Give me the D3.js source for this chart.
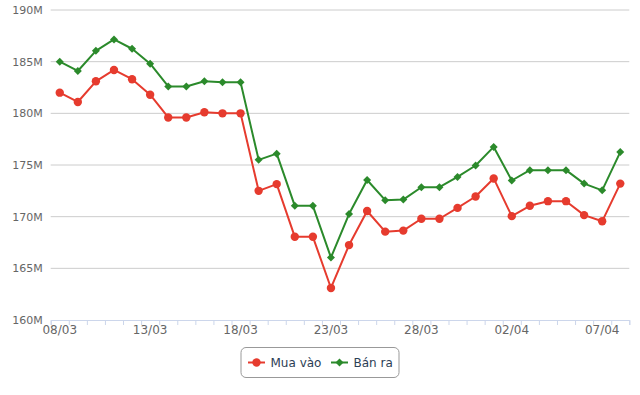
<!DOCTYPE html>
<html>
<head>
<meta charset="utf-8">
<script src="https://cdn.jsdelivr.net/npm/d3@7"></script>
<style>
  html, body { margin: 0; padding: 0; background: #fff; }
  svg { display: block; font-family: "DejaVu Sans", sans-serif; }
</style>
</head>
<body>
<div id="chart"></div>
<script>
// dates from 08/03 to 08/04
const dates = [
  '08/03','09/03','10/03','11/03','12/03','13/03','14/03','15/03','16/03','17/03',
  '18/03','19/03','20/03','21/03','22/03','23/03','24/03','25/03','26/03','27/03',
  '28/03','29/03','30/03','31/03','01/04','02/04','03/04','04/04','05/04','06/04',
  '07/04','08/04'
];
// values in millions
const buyValues = [
  182.0, 181.1, 183.1, 184.2, 183.3, 181.8, 179.6, 179.6, 180.1, 180.0,
  180.0, 172.5, 173.15, 168.05, 168.05, 163.1, 167.25, 170.55, 168.55, 168.65,
  169.8, 169.8, 170.85, 171.95, 173.7, 170.05, 171.05, 171.5, 171.5, 170.15,
  169.55, 173.2
];
const sellValues = [
  185.0, 184.1, 186.05, 187.15, 186.25, 184.8, 182.6, 182.6, 183.1, 183.0,
  183.0, 175.5, 176.1, 171.05, 171.05, 166.05, 170.25, 173.55, 171.6, 171.65,
  172.85, 172.85, 173.85, 174.95, 176.75, 173.5, 174.5, 174.5, 174.5, 173.2,
  172.55, 176.25
];
const yTicks = [160, 165, 170, 175, 180, 185, 190];
const seriesNames = ['Mua vào', 'Bán ra'];

const width = 640, height = 395;
const margin = { top: 10, right: 10.7, bottom: 75, left: 50.7 };
const red = '#e63b2e', green = '#2b8a2b';

const svg = d3.select('#chart')
  .append('svg')
  .attr('width', width)
  .attr('height', height);

const x = d3.scaleBand()
  .domain(dates)
  .range([margin.left, width - margin.right]);
const xc = d => x(d) + x.bandwidth() / 2;

const y = d3.scaleLinear()
  .domain([160, 190])
  .range([height - margin.bottom, margin.top]);

// grid lines
svg.append('g')
  .selectAll('line')
  .data(yTicks.slice(1))
  .join('line')
  .attr('x1', margin.left)
  .attr('x2', width - margin.right)
  .attr('y1', d => y(d))
  .attr('y2', d => y(d))
  .attr('stroke', '#cccccc')
  .attr('stroke-width', 1);

// y axis labels
const yAxis = svg.append('g')
  .attr('transform', `translate(${margin.left - 8},0)`)
  .call(d3.axisLeft(y).tickValues(yTicks).tickSize(0).tickPadding(0).tickFormat(d => d + 'M'));
yAxis.select('.domain').remove();
yAxis.selectAll('text')
  .attr('fill', '#666')
  .style('font-size', '11px')
  .style('font-family', '"DejaVu Sans", sans-serif');

// x axis: line + ticks at category boundaries
const xTickScale = d3.scaleLinear()
  .domain([0, dates.length])
  .range([margin.left, width - margin.right]);
const xTicks = svg.append('g')
  .attr('transform', `translate(0,${y(160)})`)
  .call(d3.axisBottom(xTickScale).tickValues(d3.range(dates.length + 1)).tickSize(5).tickSizeOuter(5).tickFormat(''));
xTicks.select('.domain').attr('stroke', '#ccd6eb');
xTicks.selectAll('.tick line').attr('stroke', '#ccd6eb');

// x labels every 5 days
const xLabels = svg.append('g')
  .attr('transform', `translate(0,${y(160)})`)
  .call(d3.axisBottom(x).tickValues(dates.filter((d, i) => i % 5 === 0)).tickSize(0).tickPadding(5));
xLabels.select('.domain').remove();
xLabels.selectAll('text')
  .attr('fill', '#666')
  .style('font-size', '12px')
  .style('font-family', '"DejaVu Sans", sans-serif');

const line = d3.line()
  .x((d, i) => xc(dates[i]))
  .y(d => y(d));

const diamond = d3.symbol().type(d3.symbolSquare).size(32);

// Bán ra
svg.append('path')
  .datum(sellValues)
  .attr('fill', 'none')
  .attr('stroke', green)
  .attr('stroke-width', 2)
  .attr('stroke-linejoin', 'round')
  .attr('d', line);
svg.append('g')
  .selectAll('path')
  .data(sellValues)
  .join('path')
  .attr('d', diamond)
  .attr('fill', green)
  .attr('transform', (d, i) => `translate(${xc(dates[i])},${y(d)}) rotate(45)`);

// Mua vào
svg.append('path')
  .datum(buyValues)
  .attr('fill', 'none')
  .attr('stroke', red)
  .attr('stroke-width', 2)
  .attr('stroke-linejoin', 'round')
  .attr('d', line);
svg.append('g')
  .selectAll('circle')
  .data(buyValues)
  .join('circle')
  .attr('cx', (d, i) => xc(dates[i]))
  .attr('cy', d => y(d))
  .attr('r', 4.2)
  .attr('fill', red);

// legend
const legend = svg.append('g').attr('transform', 'translate(241,347.5)');
legend.append('rect')
  .attr('width', 158)
  .attr('height', 30)
  .attr('rx', 5)
  .attr('fill', '#fff')
  .attr('stroke', '#999')
  .attr('stroke-width', 1);

const items = [
  { name: seriesNames[0], color: red, x: 7, type: 'circle' },
  { name: seriesNames[1], color: green, x: 90, type: 'diamond' }
];
items.forEach(it => {
  const g = legend.append('g').attr('transform', `translate(${it.x},15)`);
  g.append('line')
    .attr('x1', 0).attr('x2', 17)
    .attr('stroke', it.color).attr('stroke-width', 2);
  if (it.type === 'circle') {
    g.append('circle').attr('cx', 8.5).attr('r', 4.2).attr('fill', it.color);
  } else {
    g.append('path').attr('d', diamond).attr('fill', it.color)
      .attr('transform', 'translate(8.5,0) rotate(45)');
  }
  g.append('text')
    .attr('x', 22.5)
    .attr('y', 4.3)
    .attr('fill', '#2c3e55')
    .style('font-size', '12px')
    .text(it.name);
});
</script>
</body>
</html>
